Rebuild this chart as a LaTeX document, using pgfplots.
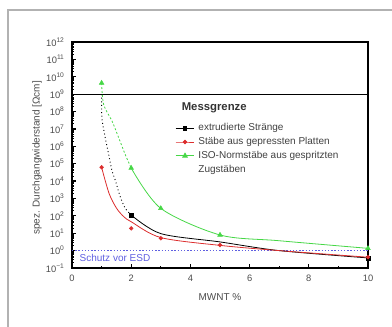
\documentclass[border=0pt]{standalone}
\usepackage{fontspec}
\setmainfont{Liberation Sans}
\usepackage{pgfplots}
\pgfplotsset{compat=1.18}
\definecolor{cgreen}{RGB}{70,215,70}
\definecolor{cred}{RGB}{220,45,45}
\definecolor{cblue}{RGB}{95,95,225}
\begin{document}
\begin{tikzpicture}[x=1pt,y=1pt]
\path[use as bounding box] (0,0) rectangle (294,245.25);
\draw[color=black!30, line width=1.1pt] (6,0) -- (6,237.75) -- (294,237.75);
\begin{axis}[
  at={(54pt,44.25pt)}, anchor=south west,
  scale only axis, width=222pt, height=169.5pt,
  xmin=0, xmax=10,
  ymode=log, log basis y=10, ymin=1e-1, ymax=1e12,
  xtick={0,2,4,6,8,10}, minor x tick num=1,
  ytick={1e-1,1,1e1,1e2,1e3,1e4,1e5,1e6,1e7,1e8,1e9,1e10,1e11,1e12},
  minor ytick={2e-1,3e-1,4e-1,5e-1,6e-1,7e-1,8e-1,9e-1,
    2,3,4,5,6,7,8,9,
    2e1,3e1,4e1,5e1,6e1,7e1,8e1,9e1,
    2e2,3e2,4e2,5e2,6e2,7e2,8e2,9e2,
    2e3,3e3,4e3,5e3,6e3,7e3,8e3,9e3,
    2e4,3e4,4e4,5e4,6e4,7e4,8e4,9e4,
    2e5,3e5,4e5,5e5,6e5,7e5,8e5,9e5,
    2e6,3e6,4e6,5e6,6e6,7e6,8e6,9e6,
    2e7,3e7,4e7,5e7,6e7,7e7,8e7,9e7,
    2e8,3e8,4e8,5e8,6e8,7e8,8e8,9e8,
    2e9,3e9,4e9,5e9,6e9,7e9,8e9,9e9,
    2e10,3e10,4e10,5e10,6e10,7e10,8e10,9e10,
    2e11,3e11,4e11,5e11,6e11,7e11,8e11,9e11},
  yticklabels={10\textsuperscript{−1},10\textsuperscript{0},10\textsuperscript{1},10\textsuperscript{2},10\textsuperscript{3},10\textsuperscript{4},10\textsuperscript{5},10\textsuperscript{6},10\textsuperscript{7},10\textsuperscript{8},10\textsuperscript{9},10\textsuperscript{10},10\textsuperscript{11},10\textsuperscript{12}},
  /pgf/number format/assume math mode=true,
  tick align=inside, xtick pos=bottom, ytick pos=left,
  major tick length=3.2pt, minor tick length=1.8pt,
  every major tick/.append style={line width=0.9pt, black},
  every minor tick/.append style={line width=0.5pt, black},
  axis line style={line width=0.8pt},
  tick label style={font=\fontsize{7}{8}\selectfont, color=black!70},
  yticklabel style={xshift=-2pt},
  xticklabel style={yshift=-2pt},
  xlabel={MWNT \%}, ylabel={spez. Durchgangwiderstand [Ωcm]},
  label style={font=\fontsize{7.5}{9}\selectfont, color=black!70},
  xlabel style={at={(axis description cs:0.5,-0.128)}, anchor=center},
  ylabel style={at={(axis description cs:-0.118,0.487)}, anchor=center},
  legend style={draw=none, fill=none, at={(axis description cs:0.348,0.646)}, anchor=north west,
    font=\fontsize{7.5}{9}\selectfont, text=black!75, inner sep=0pt, row sep=1.6pt,
    nodes={inner sep=0.8pt, text height=5.6pt, text depth=1.6pt},
    cells={anchor=west},
    /tikz/every odd column/.append style={column sep=2pt}},
  legend image code/.code={\draw[mark repeat=2,mark phase=2,#1] plot coordinates {(0pt,0pt) (7pt,0pt) (14pt,0pt)};},
]
% measurement limit and ESD line
\addplot[black, line width=0.7pt, forget plot] coordinates {(0,1e9) (10,1e9)};
\addplot[cblue, line width=1pt, dash pattern=on 1pt off 1.4pt, forget plot] coordinates {(0,1) (10,1)};
% green (ISO-Normstaebe)
\addplot[cgreen, line width=0.6pt, dash pattern=on 1.5pt off 1.5pt, smooth, forget plot] coordinates {
  (1,4.37e9) (1.07,2.51e8) (1.35,2.88e7) (1.58,3.02e6) (1.8,3.31e5) (2,5.62e4)};
\addplot[cgreen, line width=0.6pt, smooth, forget plot] coordinates {
  (2,5.62e4) (3,269) (5,7.94) (7,3.7) (10,1.35)};
\addplot[cgreen, only marks, mark=triangle*, mark size=2pt, forget plot] coordinates {
  (1,4.37e9) (2,5.62e4) (3,269) (5,7.94) (10,1.35)};
% black (extrudierte Straenge)
\addplot[black, line width=0.7pt, dotted, smooth, forget plot] coordinates {
  (1,1e9) (1.01,4.27e7) (1.125,3.02e6) (1.24,3.31e5) (1.35,3.98e4) (1.46,1.15e4) (1.63,1259) (1.8,269) (2,112)};
\addplot[black, line width=0.6pt, smooth, forget plot] coordinates {
  (2,112) (3,9.5) (5,3.16) (7,1.0) (10,0.38)};
\addplot[black, only marks, mark=square*, mark size=1.4pt, forget plot] coordinates {
  (2,112) (10,0.38)};
% red (Staebe aus gepressten Platten)
\addplot[cred, line width=0.6pt, smooth, forget plot] coordinates {
  (1,6.17e4) (1.25,1995) (1.5,282) (1.75,89) (2,45.7) (3,5.62) (5,2.0) (7,1.0) (10,0.417)};
\addplot[cred, only marks, mark=*, mark size=1.4pt, forget plot] coordinates {
  (1,6.17e4) (2,19.05) (3,5.13) (5,2.09) (10,0.417)};
% legend
\addlegendimage{black, line width=0.6pt, mark=square*, mark size=1.4pt}
\addlegendentry{extrudierte Stränge}
\addlegendimage{cred, line width=0.6pt, mark=*, mark size=1.4pt}
\addlegendentry{Stäbe aus gepressten Platten}
\addlegendimage{cgreen, line width=0.6pt, mark=triangle*, mark size=2pt}
\addlegendentry{ISO-Normstäbe aus gespritzten}
\addlegendimage{empty legend}
\addlegendentry{Zugstäben}
\node[anchor=west, font=\bfseries\fontsize{8.5}{10}\selectfont, text=black!80] at (axis description cs:0.355,0.708) {Messgrenze};
\node[anchor=west, font=\fontsize{7.5}{9}\selectfont, text=cblue] at (axis description cs:0.01,0.044) {Schutz vor ESD};
\end{axis}
\end{tikzpicture}
\end{document}
